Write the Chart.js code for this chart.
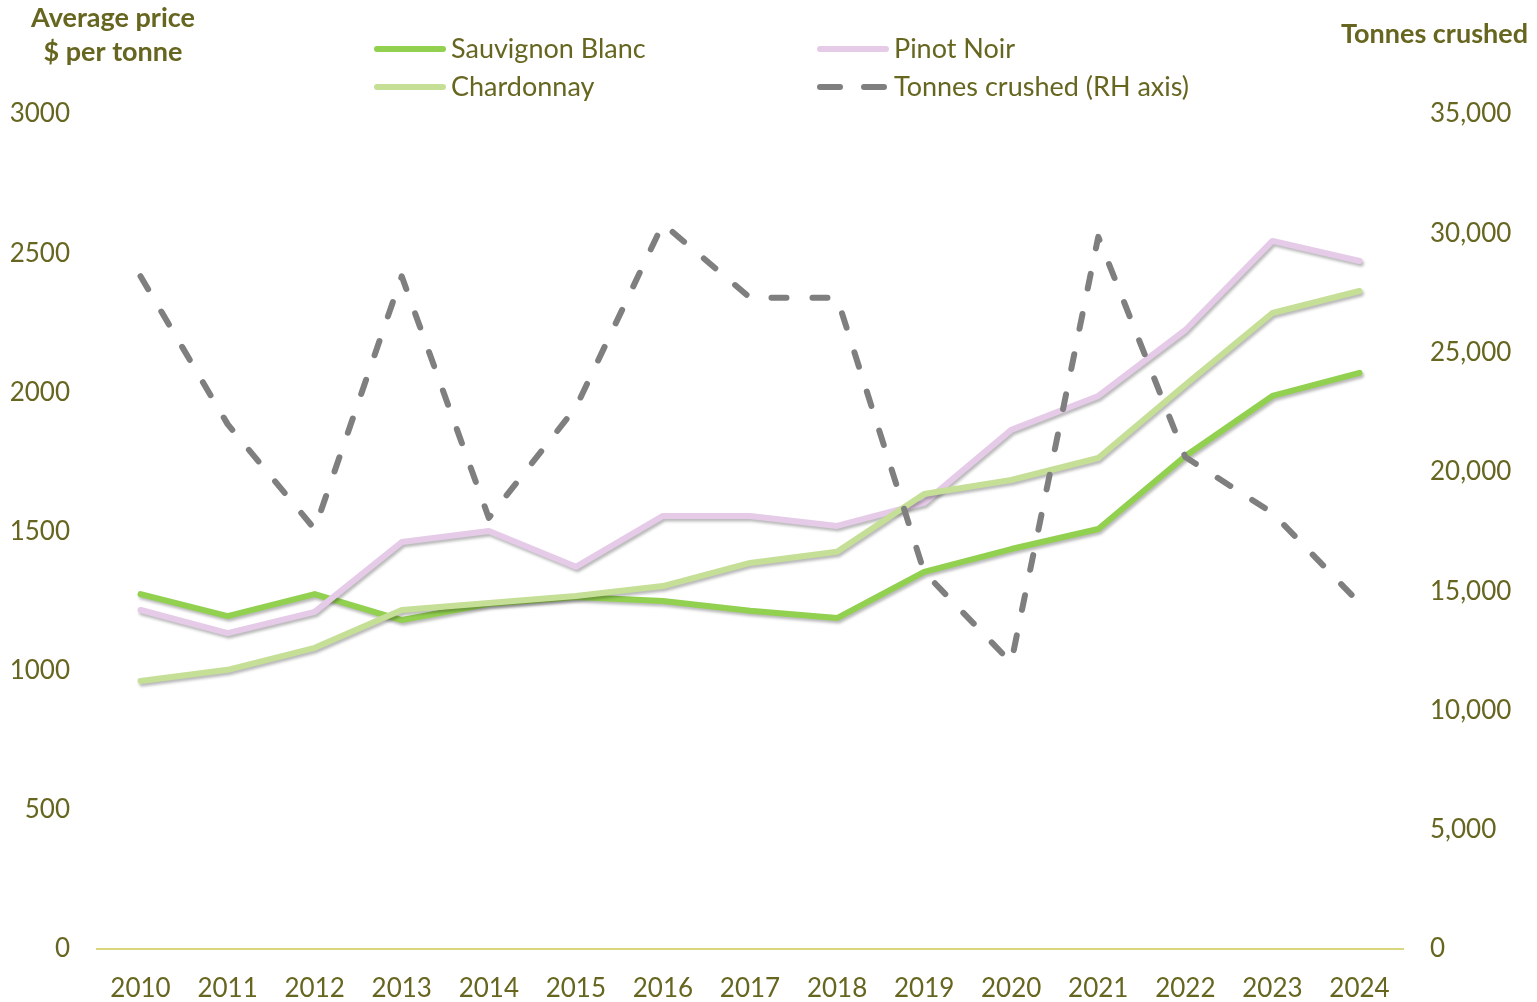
<!DOCTYPE html>
<html>
<head>
<meta charset="utf-8">
<script src="https://cdn.jsdelivr.net/npm/chart.js@4/dist/chart.umd.min.js"></script>
<style>
  html, body { margin: 0; padding: 0; background: #ffffff; }
  #wrap { width: 1537px; height: 1002px; position: relative; }
</style>
</head>
<body>
<div id="wrap"><canvas id="c" width="1537" height="1002"></canvas></div>
<script>
const years = ['2010','2011','2012','2013','2014','2015','2016','2017','2018','2019','2020','2021','2022','2023','2024'];
const sauvignonBlanc = [1275, 1196, 1275, 1182, 1240, 1265, 1250, 1215, 1189, 1355, 1437, 1509, 1771, 1987, 2070];
const pinotNoir      = [1218, 1135, 1211, 1462, 1502, 1373, 1556, 1556, 1520, 1603, 1865, 1987, 2224, 2544, 2472];
const chardonnay     = [963, 1003, 1082, 1218, 1243, 1268, 1304, 1387, 1427, 1635, 1685, 1764, 2027, 2285, 2364];
const tonnesCrushed  = [28200, 22000, 17600, 28200, 18070, 22700, 30400, 27300, 27300, 15800, 12000, 29850, 20620, 18280, 14500];
const leftTitle = ['Average price', '$ per tonne'];
const rightTitle = 'Tonnes crushed';

const TEXT = '#666620';
const FONT = 'Lato, "Open Sans", sans-serif';
const C_SB = '#92D050', C_CH = '#C5DF96', C_PN = '#E5CBE8', C_TC = '#7F7F7F';

const shadowPlugin = {
  id: 'shadow',
  beforeDatasetDraw(chart, args) {
    const ds = chart.data.datasets[args.index];
    chart.ctx.save();
    if (!ds.borderDash) {
      chart.ctx.shadowColor = 'rgba(0,0,0,0.28)';
      chart.ctx.shadowBlur = 3;
      chart.ctx.shadowOffsetX = 1.5;
      chart.ctx.shadowOffsetY = 2.5;
    }
  },
  afterDatasetDraw(chart) { chart.ctx.restore(); }
};

const decorPlugin = {
  id: 'decor',
  afterDraw(chart) {
    const ctx = chart.ctx;
    ctx.save();
    ctx.fillStyle = TEXT;
    ctx.textBaseline = 'middle';
    ctx.font = 'bold 27px ' + FONT;
    ctx.textAlign = 'center';
    ctx.fillText(leftTitle[0], 113, 18);
    ctx.fillText(leftTitle[1], 113, 52);
    ctx.textAlign = 'right';
    ctx.fillText(rightTitle, 1528, 34);
    // legend
    const items = [
      {ds: 0, x: 377, y: 49},
      {ds: 2, x: 377, y: 87},
      {ds: 1, x: 820, y: 49},
      {ds: 3, x: 820, y: 87}
    ];
    ctx.font = '27px ' + FONT;
    ctx.textAlign = 'left';
    items.forEach(it => {
      const d = chart.data.datasets[it.ds];
      ctx.save();
      ctx.strokeStyle = d.borderColor;
      ctx.lineWidth = 6;
      ctx.lineCap = 'round';
      if (d.borderDash) ctx.setLineDash([20, 24]);
      ctx.beginPath();
      ctx.moveTo(it.x, it.y);
      ctx.lineTo(it.x + 66, it.y);
      ctx.stroke();
      ctx.restore();
      ctx.fillStyle = TEXT;
      ctx.fillText(d.label, it.x + 74, it.y);
    });
    ctx.restore();
  }
};

new Chart(document.getElementById('c'), {
  type: 'line',
  data: {
    labels: years,
    datasets: [
      { label: 'Sauvignon Blanc', data: sauvignonBlanc, borderColor: C_SB, borderWidth: 6, yAxisID: 'y', order: 3, pointRadius: 0, tension: 0, borderCapStyle: 'round', borderJoinStyle: 'round' },
      { label: 'Pinot Noir', data: pinotNoir, borderColor: C_PN, borderWidth: 6, yAxisID: 'y', order: 2, pointRadius: 0, tension: 0, borderCapStyle: 'round', borderJoinStyle: 'round' },
      { label: 'Chardonnay', data: chardonnay, borderColor: C_CH, borderWidth: 6, yAxisID: 'y', order: 1, pointRadius: 0, tension: 0, borderCapStyle: 'round', borderJoinStyle: 'round' },
      { label: 'Tonnes crushed (RH axis)', data: tonnesCrushed, borderColor: C_TC, borderWidth: 6, borderDash: [15, 26], yAxisID: 'y1', order: 0, pointRadius: 0, tension: 0, borderCapStyle: 'round', borderJoinStyle: 'round' }
    ]
  },
  options: {
    responsive: false,
    animation: false,
    devicePixelRatio: 1,
    layout: { padding: { top: 114, left: 0, right: 0, bottom: 0 } },
    plugins: { legend: { display: false }, tooltip: { enabled: false } },
    scales: {
      x: {
        type: 'category',
        offset: true,
        grid: { display: false, drawTicks: false },
        border: { display: true, color: '#DAD67E', width: 2 },
        ticks: { color: TEXT, font: { family: FONT, size: 26 }, padding: 24, maxRotation: 0, autoSkip: false },
        afterFit(s) { s.height = 53; }
      },
      y: {
        position: 'left',
        min: 0, max: 3000,
        grid: { display: false, drawTicks: false },
        border: { display: false },
        ticks: { stepSize: 500, color: TEXT, font: { family: FONT, size: 26 }, padding: 27,
          callback: v => String(v) },
        afterFit(s) { s.width = 97; }
      },
      y1: {
        position: 'right',
        min: 0, max: 35000,
        grid: { display: false, drawTicks: false },
        border: { display: false },
        ticks: { stepSize: 5000, color: TEXT, font: { family: FONT, size: 26 }, padding: 27,
          callback: v => v.toLocaleString('en-US') },
        afterFit(s) { s.width = 134; }
      }
    }
  },
  plugins: [shadowPlugin, decorPlugin]
});
</script>
</body>
</html>
